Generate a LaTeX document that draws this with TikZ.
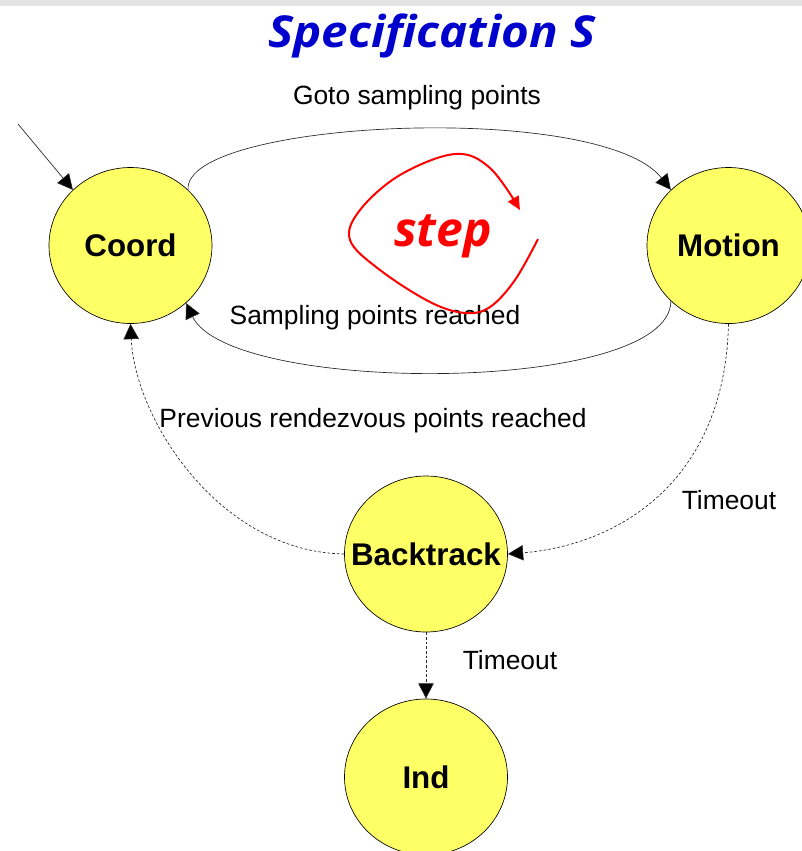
\documentclass[tikz,border=0pt]{standalone}
\usepackage{fontspec}
\setmainfont{Liberation Sans}
\newfontfamily\headfont{Open Sans}
\usetikzlibrary{arrows.meta,shapes.geometric}
\definecolor{stateyellow}{HTML}{FFFF66}
\definecolor{headblue}{HTML}{0000CC}
\definecolor{stepred}{HTML}{FF0000}
\definecolor{bandgray}{HTML}{E4E4E4}
\begin{document}
\begin{tikzpicture}[x=0.75pt,y=-0.75pt,
  state/.style={ellipse, draw=black, line width=0.5pt, fill=stateyellow,
    minimum width=122.25pt, minimum height=117pt, inner sep=0pt,
    font=\fontsize{23.5}{26}\selectfont\bfseries},
  trans/.style={draw=black!85, line width=0.5pt,
    -{Triangle[length=11.5pt,width=11.5pt,fill=black]}},
  dashtrans/.style={trans, dash pattern=on 2pt off 1.5pt},
  lbl/.style={font=\fontsize{19.8}{22}\selectfont, inner sep=0pt},
  headline/.style={font=\headfont\fontsize{33}{38}\selectfont\bfseries\itshape,
    text=headblue, inner sep=0pt},
  steptext/.style={font=\headfont\fontsize{36}{40}\selectfont\bfseries\itshape,
    text=stepred, inner sep=0pt}]
  \useasboundingbox (0,0) rectangle (802,851);
  \clip (0,0) rectangle (802,851);

  % header band
  \fill[bandgray] (0,0) rectangle (802,6);

  % title
  \node[headline, xscale=1.08] (title) at (432,36) {Specification S};

  % states (labels take no width, so every ellipse keeps the same size)
  \node[state] (coord)     at (130.5,245.5) {\makebox[0pt]{Coord}};
  \node[state] (motion)    at (728.5,245.5) {\makebox[0pt]{Motion}};
  \node[state] (backtrack) at (426,554)     {\makebox[0pt]{Backtrack}};
  \node[state] (ind)       at (426,777)     {\makebox[0pt]{Ind}};

  % initial transition
  \coordinate (init) at (18,124);
  \draw[trans] (init) -- (coord.136);

  % Coord <-> Motion
  \draw[trans] (coord.44) .. controls (182,120) and (600,100) .. (motion.136);
  \draw[trans] (motion.224) .. controls (670,395) and (230,395) .. (coord.-46);

  % timeout / backtracking transitions
  \draw[dashtrans] (motion.south) .. controls (725,480) and (620,545) .. (backtrack.east);
  \draw[dashtrans] (backtrack.west) .. controls (220,552) and (135,420) .. (coord.south);
  \draw[dashtrans] (backtrack.south) -- (ind.north);

  % transition labels
  \node[lbl] (lgoto)  at (417,98)  {Goto sampling points};
  \node[lbl] (lreach) at (375,318) {Sampling points reached};
  \node[lbl] (lprev)  at (373,421) {Previous rendezvous points reached};
  \node[lbl] (ltime1) at (729,500) {Timeout};
  \node[lbl] (ltime2) at (510,660) {Timeout};

  % step loop
  \draw[stepred, line width=1.5pt, -{Triangle[length=10pt,width=9pt]}]
    plot[smooth, tension=0.6] coordinates {(538,239) (515,280) (490,307)
      (465,313) (430,302) (380,270) (350,240) (360,210) (400,175)
      (455,154) (490,168) (520,210)};
  \node[steptext] (steplbl) at (443,236) {step};
\end{tikzpicture}
\end{document}
